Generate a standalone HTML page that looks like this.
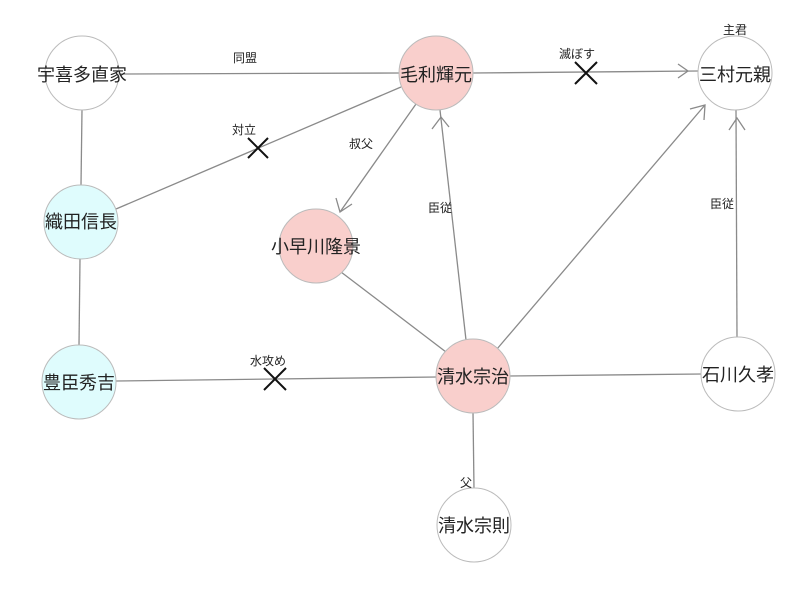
<!DOCTYPE html>
<html><head><meta charset="utf-8"><style>
html,body{margin:0;padding:0;background:#fff}
svg{display:block}
text{font-family:"Liberation Sans","Noto Sans CJK JP",sans-serif;fill:#222}
.n{font-size:18px;text-anchor:middle;dominant-baseline:central}
.l{font-size:12px;text-anchor:middle}
line,.e{stroke:#8a8a8a;stroke-width:1.3;fill:none}
.x{stroke:#111;stroke-width:2}
</style></head><body>
<svg width="800" height="606" viewBox="0 0 800 606">
<line x1="118" y1="74" x2="400" y2="73"/>
<line x1="472" y1="73" x2="698" y2="71"/>
<line x1="116" y1="209" x2="401" y2="87"/>
<line x1="416" y1="104" x2="340" y2="212"/>
<line x1="466" y1="340" x2="440" y2="110"/>
<line x1="497" y1="349" x2="705" y2="105"/>
<line x1="737" y1="338" x2="736" y2="110"/>
<line x1="82" y1="110" x2="81" y2="185"/>
<line x1="80" y1="259" x2="79" y2="345"/>
<line x1="341" y1="272" x2="446" y2="352"/>
<line x1="116" y1="381" x2="437" y2="377"/>
<line x1="509" y1="376" x2="702" y2="374"/>
<line x1="473" y1="412" x2="474" y2="489"/>
<path class="e" d="M678,64 L688,71 L678,78"/>
<path class="e" d="M336,198 L340,212 L352,204"/>
<path class="e" d="M432,129 L441,117 L449,127"/>
<path class="e" d="M690,109 L705,105 L704,120"/>
<path class="e" d="M729,130 L737,118 L745,130"/>
<path class="x" d="M575,62 L597,84 M597,62 L575,84"/>
<path class="x" d="M248,138 L268,158 M268,138 L248,158"/>
<path class="x" d="M264,368 L286,390 M286,368 L264,390"/>
<circle cx="82" cy="73" r="37" fill="#fff" stroke="#bbb"/>
<circle cx="436" cy="73" r="37" fill="#f9cfcc" stroke="#bbb"/>
<circle cx="735" cy="73" r="37" fill="none" stroke="#bbb"/>
<circle cx="81" cy="222" r="37" fill="#dffcfd" stroke="#bbb"/>
<circle cx="316" cy="246" r="37" fill="#f9cfcc" stroke="#bbb"/>
<circle cx="473" cy="376" r="37" fill="#f9cfcc" stroke="#bbb"/>
<circle cx="79" cy="382" r="37" fill="#dffcfd" stroke="#bbb"/>
<circle cx="738" cy="374" r="37" fill="#fff" stroke="#bbb"/>
<circle cx="474" cy="525" r="37" fill="#fff" stroke="#bbb"/>
<text class="n" x="82" y="75">宇喜多直家</text>
<text class="n" x="436" y="75">毛利輝元</text>
<text class="n" x="735" y="75">三村元親</text>
<text class="n" x="81" y="222">織田信長</text>
<text class="n" x="316" y="247">小早川隆景</text>
<text class="n" x="473" y="377">清水宗治</text>
<text class="n" x="79" y="383">豊臣秀吉</text>
<text class="n" x="738" y="375">石川久孝</text>
<text class="n" x="474" y="526">清水宗則</text>
<text class="l" x="245" y="62">同盟</text>
<text class="l" x="577" y="58">滅ぼす</text>
<text class="l" x="735" y="34">主君</text>
<text class="l" x="244" y="134">対立</text>
<text class="l" x="361" y="148">叔父</text>
<text class="l" x="440" y="212">臣従</text>
<text class="l" x="722" y="208">臣従</text>
<text class="l" x="268" y="365">水攻め</text>
<text class="l" x="466" y="487">父</text>
</svg>
</body></html>
